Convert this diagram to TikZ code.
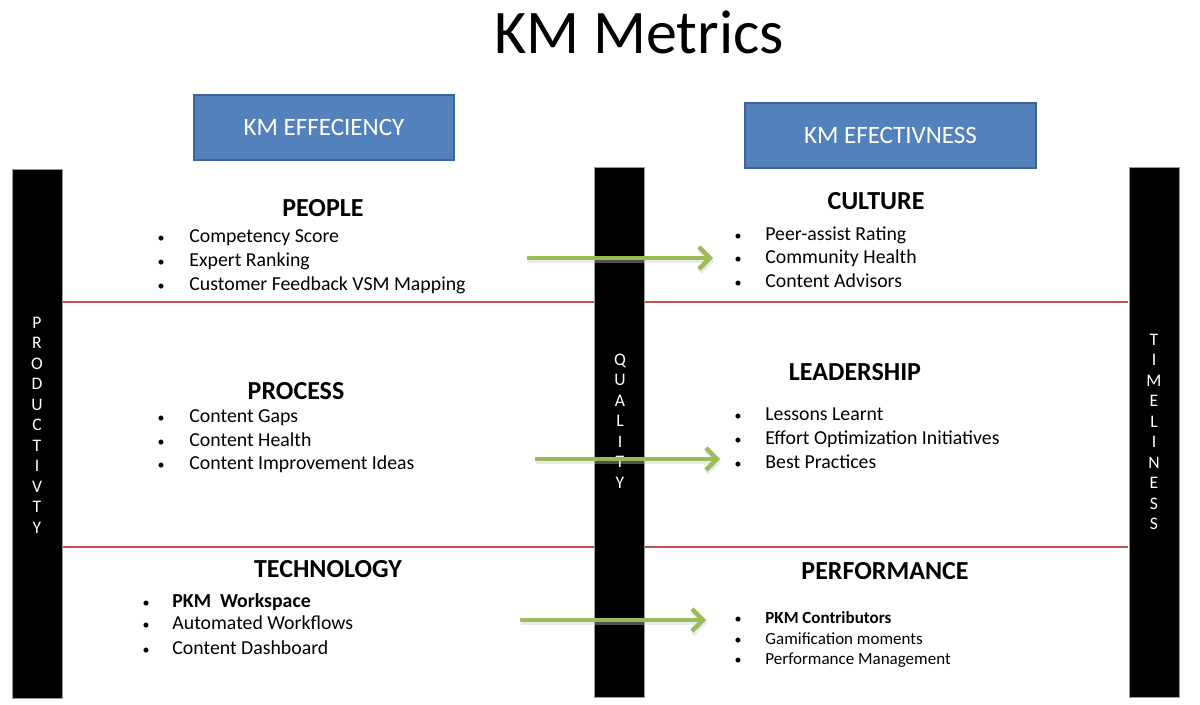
\documentclass[tikz,border=0pt]{standalone}
\usepackage{fontspec}
\setmainfont{Carlito}
\usetikzlibrary{arrows.meta}
\definecolor{boxblue}{HTML}{5281BC}
\definecolor{boxborder}{HTML}{3C6494}
\definecolor{arrowgreen}{HTML}{9BBB59}
\definecolor{redline}{HTML}{C0504D}
\tikzset{
  hdrbox/.style={draw=boxborder, line width=1.2pt, fill=boxblue, text=white,
    font=\fontsize{12.5}{14}\selectfont, inner sep=0pt},
  bar/.style={fill=black, draw=black!40, line width=0.3pt, minimum width=25pt, inner sep=0pt},
  barlabel/.style={text=white, align=center, font=\fontsize{8.8}{10.25}\selectfont, inner sep=0pt},
  sephr/.style={draw=redline, line width=0.6pt},
  heading/.style={font=\bfseries\fontsize{13}{15}\selectfont, anchor=base, inner sep=0pt},
  itemtxt/.style={font=\fontsize{9.9}{11}\selectfont, anchor=base west, inner sep=0pt},
  smalltxt/.style={font=\fontsize{8.5}{10}\selectfont, anchor=base west, inner sep=0pt},
  garrow/.style={draw=arrowgreen, line width=2.2pt, -{Straight Barb[length=5.5pt,width=11pt,line width=2.2pt]}},
  gshadow/.style={draw=black!20, line width=2.4pt, opacity=0.4, -{Straight Barb[length=5.5pt,width=11pt,line width=2.4pt]}}
}
\newcommand\bitem[6]{%
  \node[#6, font=\fontsize{7}{8}\selectfont, anchor=base] (#1b) at (#2,#4) {\textbullet};
  \node[#6] (#1) at (#3,#4) {#5};
}
\begin{document}
\begin{tikzpicture}[x=0.5pt,y=-0.5pt]
\useasboundingbox[fill=white] (0,0) rectangle (1200,705);

% title
\node[font=\fontsize{31}{36}\selectfont, anchor=base, inner sep=0pt] (title) at (639,54) {KM Metrics};

% header boxes
\node[hdrbox, minimum width=130pt, minimum height=32.5pt] (eff) at (324,127.5) {KM EFFECIENCY};
\node[hdrbox, minimum width=145.5pt, minimum height=32.5pt] (efv) at (890.5,135.5) {KM EFECTIVNESS};

% separators
\draw[sephr] (62,302) -- (1128,302);
\draw[sephr] (62,547) -- (1128,547);

% bars
\node[bar, minimum height=264.5pt] (lbar) at (37,433.5) {};
\node[bar, minimum height=265pt] (mbar) at (619.5,432) {};
\node[bar, minimum height=265pt] (rbar) at (1154,432) {};

\node[barlabel] (prod) at (37,425) {P\\R\\O\\D\\U\\C\\T\\I\\V\\T\\Y};
\node[barlabel] (qual) at (620,421) {Q\\U\\A\\L\\I\\T\\Y};
\node[barlabel] (time) at (1154,432) {T\\I\\M\\E\\L\\I\\N\\E\\S\\S};

% PEOPLE
\node[heading] (people) at (323,217) {PEOPLE};
\bitem{p1}{161}{189}{243}{Competency Score}{itemtxt}
\bitem{p2}{161}{189}{267}{Expert Ranking}{itemtxt}
\bitem{p3}{161}{189}{291}{Customer Feedback VSM Mapping}{itemtxt}

% PROCESS
\node[heading] (process) at (296,400) {PROCESS};
\bitem{q1}{161}{189}{423}{Content Gaps}{itemtxt}
\bitem{q2}{161}{189}{447}{Content Health}{itemtxt}
\bitem{q3}{161}{189}{470}{Content Improvement Ideas}{itemtxt}

% TECHNOLOGY
\node[heading] (tech) at (328,577) {TECHNOLOGY};
\bitem{t1}{146}{172}{607}{\textbf{PKM\ \ Workspace}}{itemtxt}
\bitem{t2}{146}{172}{630}{Automated Workflows}{itemtxt}
\bitem{t3}{146}{172}{654}{Content Dashboard}{itemtxt}

% CULTURE
\node[heading] (culture) at (876,210) {CULTURE};
\bitem{c1}{738}{765}{241}{Peer-assist Rating}{itemtxt}
\bitem{c2}{738}{765}{264}{Community Health}{itemtxt}
\bitem{c3}{738}{765}{288}{Content Advisors}{itemtxt}

% LEADERSHIP
\node[heading] (lead) at (855,381) {LEADERSHIP};
\bitem{l1}{738}{765}{421}{Lessons Learnt}{itemtxt}
\bitem{l2}{738}{765}{445}{Effort Optimization Initiatives}{itemtxt}
\bitem{l3}{738}{765}{469}{Best Practices}{itemtxt}

% PERFORMANCE
\node[heading] (perf) at (885,580) {PERFORMANCE};
\bitem{f1}{738}{765}{624}{\textbf{PKM Contributors}}{smalltxt}
\bitem{f2}{738}{765}{644}{Gamification moments}{smalltxt}
\bitem{f3}{738}{765}{664}{Performance Management}{smalltxt}

% arrows
\coordinate (a1s) at (527,258); \coordinate (a1e) at (713,258);
\coordinate (a2s) at (535,459); \coordinate (a2e) at (720,459);
\coordinate (a3s) at (520,620); \coordinate (a3e) at (706,620);
\coordinate (s1s) at (528,261); \coordinate (s1e) at (714,261);
\coordinate (s2s) at (536,462); \coordinate (s2e) at (721,462);
\coordinate (s3s) at (521,623); \coordinate (s3e) at (707,623);
\draw[gshadow] (s1s) -- (s1e);
\draw[gshadow] (s2s) -- (s2e);
\draw[gshadow] (s3s) -- (s3e);
\draw[garrow] (a1s) -- (a1e);
\draw[garrow] (a2s) -- (a2e);
\draw[garrow] (a3s) -- (a3e);
\end{tikzpicture}
\end{document}
